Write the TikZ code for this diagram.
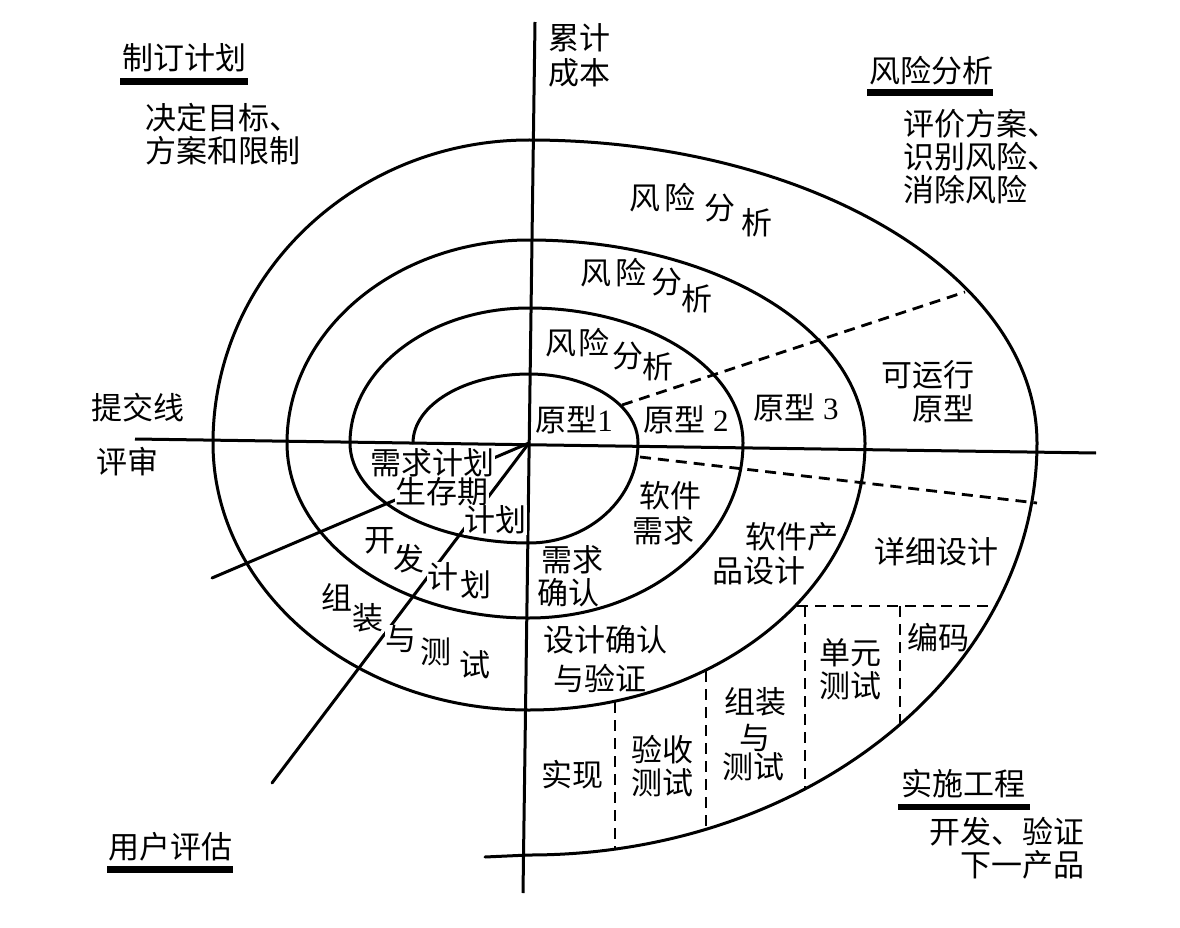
\documentclass[tikz,border=0pt]{standalone}
\usepackage{fontspec}
\setmainfont{Liberation Serif}
\newfontfamily\cjk{Noto Sans CJK SC}
\begin{document}
\begin{tikzpicture}[x=1pt,y=1pt,
  curve/.style={line width=3pt, line join=round, line cap=round},
  axisln/.style={line width=3pt},
  dashln/.style={line width=2.8pt, dash pattern=on 11pt off 7pt},
  lbl/.style={font=\cjk\fontsize{31}{33}\selectfont, inner sep=0pt},
  occ/.style={lbl, fill=white, inner sep=0.5pt},
  barfill/.style={fill=black}]
\useasboundingbox (0,0) rectangle (1180,-928);
\fill[white] (0,0) rectangle (1180,-928);

% axes
\coordinate (C) at (529,-443);
\coordinate (hL) at (135,-439);
\coordinate (hR) at (1096,-453);
\coordinate (vT) at (535,-22);
\coordinate (vB) at (523,-893);
\draw[axisln] (hL) -- (hR);
\draw[axisln] (vT) -- (vB);

% spiral
\coordinate (s0) at (413,-443);
\coordinate (sEnd) at (485,-857);
\draw[curve] (s0)
  arc[start angle=180,end angle=90,x radius=116,y radius=69]
  arc[start angle=90,end angle=0,x radius=109,y radius=69]
  arc[start angle=0,end angle=-90,x radius=109,y radius=100]
  arc[start angle=-90,end angle=-180,x radius=179,y radius=100]
  arc[start angle=180,end angle=90,x radius=179,y radius=135]
  arc[start angle=90,end angle=0,x radius=214,y radius=135]
  arc[start angle=0,end angle=-90,x radius=214,y radius=175]
  arc[start angle=-90,end angle=-180,x radius=242,y radius=175]
  arc[start angle=180,end angle=90,x radius=242,y radius=203]
  arc[start angle=90,end angle=0,x radius=336,y radius=203]
  arc[start angle=0,end angle=-90,x radius=336,y radius=267]
  arc[start angle=-90,end angle=-180,x radius=316,y radius=267]
  arc[start angle=180,end angle=90,x radius=316,y radius=303]
  arc[start angle=90,end angle=0,x radius=508,y radius=303]
  arc[start angle=0,end angle=-90,x radius=508,y radius=412]
  -- (sEnd);

% radial lines from centre
\coordinate (l1) at (212,-578);
\coordinate (l2) at (272,-783);
\draw[curve] (C) -- (l1);
\draw[curve] (C) -- (l2);

% dashed lines
\coordinate (d1a) at (622,-405); \coordinate (d1b) at (965,-292);
\coordinate (d2a) at (640,-457); \coordinate (d2b) at (1037,-503);
\coordinate (d3a) at (797,-606); \coordinate (d3b) at (996,-606);
\coordinate (d4a) at (900,-606); \coordinate (d4b) at (900,-726);
\coordinate (d5a) at (805,-606); \coordinate (d5b) at (805,-789);
\coordinate (d6a) at (706,-671); \coordinate (d6b) at (706,-829);
\coordinate (d7a) at (615,-702); \coordinate (d7b) at (615,-849);
\draw[dashln] (d1a) -- (d1b);
\draw[dashln] (d2a) -- (d2b);
\draw[dashln] (d3a) -- (d3b);
\draw[dashln] (d4a) -- (d4b);
\draw[dashln] (d5a) -- (d5b);
\draw[dashln] (d6a) -- (d6b);
\draw[dashln] (d7a) -- (d7b);

% corner headings
\node[lbl] (h1) at (184,-58) {制订计划};
\fill[barfill] (120,-78) rectangle (248,-85);
\node[lbl,anchor=west] (h1a) at (145,-118) {决定目标、};
\node[lbl,anchor=west] (h1b) at (145,-151) {方案和限制};

\node[lbl,anchor=west] (cost1) at (548,-38) {累计};
\node[lbl,anchor=west] (cost2) at (548,-73) {成本};

\node[lbl] (h2) at (931,-71) {风险分析};
\fill[barfill] (867,-89) rectangle (993,-96);
\node[lbl,anchor=west] (h2a) at (903,-124) {评价方案、};
\node[lbl,anchor=west] (h2b) at (903,-157) {识别风险、};
\node[lbl,anchor=west] (h2c) at (903,-190) {消除风险};

\node[lbl] (sub) at (138,-408) {提交线};
\node[lbl] (rev) at (127,-462) {评审};

\node[lbl] (h3) at (170,-847) {用户评估};
\fill[barfill] (107,-866) rectangle (233,-873);

\node[lbl] (h4) at (963,-784) {实施工程};
\fill[barfill] (898,-804) rectangle (1030,-810);
\node[lbl,anchor=east] (h4a) at (1085,-832) {开发、验证};
\node[lbl,anchor=east] (h4b) at (1085,-865) {下一产品};

% risk analysis labels (staggered)
\node[lbl] (ra1a) at (645,-198) {风};
\node[lbl] (ra1b) at (680,-198) {险};
\node[lbl] (ra1c) at (720,-208) {分};
\node[lbl] (ra1d) at (757,-223) {析};
\node[lbl] (ra2a) at (596,-273) {风};
\node[lbl] (ra2b) at (631,-273) {险};
\node[lbl] (ra2c) at (667,-282) {分};
\node[lbl] (ra2d) at (697,-299) {析};
\node[lbl] (ra3a) at (561,-343) {风};
\node[lbl] (ra3b) at (594,-343) {险};
\node[lbl] (ra3c) at (628,-356) {分};
\node[lbl] (ra3d) at (658,-367) {析};

% prototypes
\node[lbl] (p1) at (574,-420) {原型{\rmfamily 1}};
\node[lbl] (p2) at (686,-420) {原型{\rmfamily\ 2}};
\node[lbl] (p3) at (796,-408) {原型{\rmfamily\ 3}};
\node[lbl] (p4a) at (928,-375) {可运行};
\node[lbl] (p4b) at (943,-409) {原型};

% lower right
\node[lbl] (sr1) at (670,-496) {软件};
\node[lbl] (sr2) at (663,-531) {需求};
\node[lbl] (pd1) at (792,-537) {软件产};
\node[lbl] (pd2) at (759,-571) {品设计};
\node[lbl] (dd) at (936,-552) {详细设计};
\node[lbl] (rc1) at (572,-560) {需求};
\node[lbl] (rc2) at (568,-593) {确认};
\node[lbl] (dv1) at (605,-640) {设计确认};
\node[lbl] (dv2) at (600,-678) {与验证};
\node[lbl] (im) at (572,-775) {实现};
\node[lbl] (ac1) at (662,-750) {验收};
\node[lbl] (ac2) at (662,-783) {测试};
\node[lbl] (it1) at (755,-702) {组装};
\node[lbl] (it2) at (755,-738) {与};
\node[lbl] (it3) at (753,-767) {测试};
\node[lbl] (ut1) at (850,-653) {单元};
\node[lbl] (ut2) at (850,-686) {测试};
\node[lbl] (cd) at (938,-638) {编码};

% lower left (text covers the radial lines)
\node[occ] (rp) at (432,-463) {需求计划};
\node[occ] (lc) at (442,-492) {生存期};
\node[occ] (lp) at (495,-520) {计划};
\node[occ] (dp1) at (380,-541) {开};
\node[occ] (dp2) at (409,-559) {发};
\node[occ] (dp3) at (443,-577) {计};
\node[occ] (dp4) at (476,-585) {划};
\node[occ] (at1) at (337,-597) {组};
\node[occ] (at2) at (368,-618) {装};
\node[occ] (at3) at (401,-639) {与};
\node[occ] (at4) at (436,-652) {测};
\node[occ] (at5) at (475,-665) {试};
\end{tikzpicture}
\end{document}
